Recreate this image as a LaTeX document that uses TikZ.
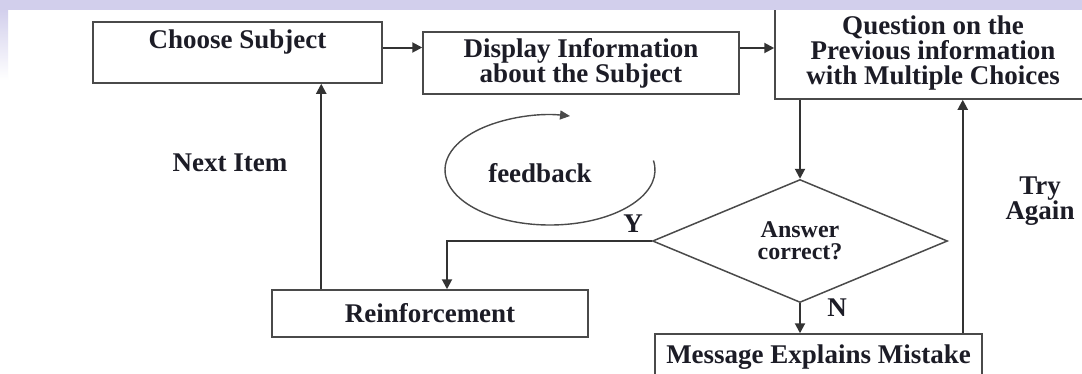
\documentclass[tikz,border=0pt]{standalone}
\usepackage{fontspec}
\setmainfont{Liberation Serif}
\usetikzlibrary{arrows.meta,positioning,shapes.geometric}
\definecolor{ink}{HTML}{1C1C26}
\definecolor{edge}{HTML}{4A4A4A}
\definecolor{wire}{HTML}{333333}
\definecolor{lavender}{HTML}{D2CFEC}

\begin{document}
\begin{tikzpicture}[x=1pt, y=-1pt, font=\bfseries\fontsize{27}{25}\selectfont, text=ink,
    box/.style={draw=edge, line width=1.5pt, fill=white, inner sep=0pt, align=center},
    arr/.style={-{Triangle[length=10pt,width=10pt]}, draw=wire, line width=2pt}]
  \useasboundingbox (0,0) rectangle (1082,373);
  \fill[white] (0,0) rectangle (1082,373);

  \node[box, minimum width=289pt, minimum height=61pt] (subj) at (237.5,52.5) {Choose Subject\\[2pt]\mbox{}};
  \node[box, minimum width=316pt, minimum height=62pt] (info) at (581,63) {Display Information\\about the Subject};
  \node[box, minimum width=316pt, minimum height=92pt] (quest) at (933,53) {Question on the\\Previous information\\with Multiple Choices};
  \node[draw=edge, line width=1.5pt, shape=diamond, minimum width=295pt, minimum height=97pt, inner sep=0pt,
        align=center, font=\bfseries\fontsize{24}{22}\selectfont] (ans) at (800,241) {Answer\\correct?};
  \node[box, minimum width=316pt, minimum height=47pt] (reinf) at (430,313.5) {Reinforcement};
  \node[box, minimum width=327pt, minimum height=46pt] (msg) at (818.5,357) {Message Explains Mistake};

  \draw[arr] ([yshift=5pt]subj.east) -- ([yshift=5pt]subj.east -| info.west);
  \draw[arr] ([yshift=15pt]info.east) -- ([yshift=15pt]info.east -| quest.west);
  \draw[arr] (quest.south -| ans.north) -- (ans.north);
  \draw[arr] (ans.west) -| ([xshift=17pt]reinf.north);
  \draw[arr] (ans.south) -- (ans.south |- msg.north);
  \draw[arr] ([xshift=50pt]reinf.north west) -- ([xshift=50pt]reinf.north west |- subj.south);
  \draw[arr] ([xshift=-20pt]msg.north east) -- ([xshift=-20pt]msg.north east |- quest.south);

  \node (next) at (230,163) {Next Item};
  \node (yes) at (633,224) {Y};
  \node (no) at (837,308) {N};
  \node[align=center] (again) at (1040,201) {Try\\Again};

  \draw[edge, line width=1.4pt, -{Triangle[length=10pt,width=9pt]}]
    (550,170) ++(-10:105 and 55) arc[start angle=-10, end angle=281, x radius=105, y radius=55];
  \node (fb) at (540,173) {feedback};

  \shade[left color=lavender, middle color=lavender!55, right color=lavender] (0,0) rectangle (1082,9);
  \shade[top color=lavender, bottom color=white] (0,9) rectangle (8,80);
\end{tikzpicture}
\end{document}
